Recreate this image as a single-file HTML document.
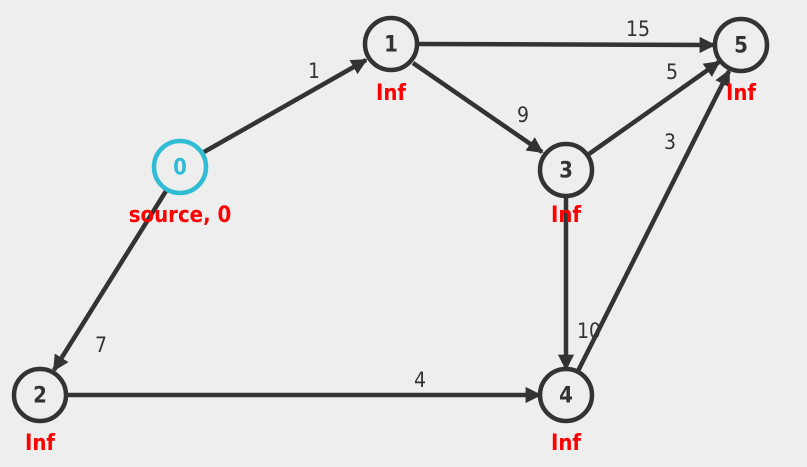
<!DOCTYPE html>
<html><head><style>
html,body{margin:0;padding:0;background:#eeeeee;}
svg{display:block;}
text{font-family:"DejaVu Sans Condensed","DejaVu Sans","Liberation Sans",sans-serif;}
.n{font-size:22px;fill:#333;text-anchor:middle;dominant-baseline:central;font-weight:bold;}
.w{font-size:21px;fill:#333;text-anchor:middle;}
.r{font-size:22px;fill:#ff0000;font-weight:bold;text-anchor:middle;}
</style></head><body>
<svg width="807" height="467" viewBox="0 0 807 467" xmlns="http://www.w3.org/2000/svg">
<defs><marker id="a" markerWidth="3.6" markerHeight="3.6" refX="3.2" refY="1.8" orient="auto" markerUnits="strokeWidth"><path d="M0,0 L3.6,1.8 L0,3.6 z" fill="#333"/></marker></defs>
<g stroke="#333" stroke-width="4.5" fill="none">
<line x1="204" y1="152" x2="366" y2="60" marker-end="url(#a)"/>
<line x1="418" y1="44" x2="714" y2="45" marker-end="url(#a)"/>
<line x1="413" y1="63" x2="542" y2="152" marker-end="url(#a)"/>
<line x1="589" y1="154" x2="719" y2="62" marker-end="url(#a)"/>
<line x1="566" y1="197" x2="566" y2="369" marker-end="url(#a)"/>
<line x1="578" y1="371" x2="729" y2="71" marker-end="url(#a)"/>
<line x1="166" y1="191" x2="54" y2="370" marker-end="url(#a)"/>
<line x1="67" y1="395" x2="540" y2="395" marker-end="url(#a)"/>
</g>
<g stroke-width="4.5" fill="#eeeeee">
<circle cx="180" cy="167" r="26" stroke="#2fbcd4"/>
<circle cx="391" cy="44" r="26" stroke="#333"/>
<circle cx="741" cy="45" r="26" stroke="#333"/>
<circle cx="566" cy="170" r="26" stroke="#333"/>
<circle cx="40" cy="395" r="26" stroke="#333"/>
<circle cx="566" cy="395" r="26" stroke="#333"/>
</g>
<text class="n" x="180" y="168" style="fill:#2fbcd4">0</text>
<text class="n" x="391" y="45">1</text>
<text class="n" x="741" y="46">5</text>
<text class="n" x="566" y="171">3</text>
<text class="n" x="40" y="396">2</text>
<text class="n" x="566" y="396">4</text>
<text class="r" x="180" y="222">source, 0</text>
<text class="r" x="391" y="100">Inf</text>
<text class="r" x="741" y="100">Inf</text>
<text class="r" x="566" y="222">Inf</text>
<text class="r" x="40" y="450">Inf</text>
<text class="r" x="566" y="450">Inf</text>
<text class="w" x="314" y="78">1</text>
<text class="w" x="638" y="36">15</text>
<text class="w" x="523" y="122">9</text>
<text class="w" x="672" y="79">5</text>
<text class="w" x="670" y="149">3</text>
<text class="w" x="589" y="338">10</text>
<text class="w" x="101" y="352">7</text>
<text class="w" x="420" y="387">4</text>
</svg>
</body></html>
